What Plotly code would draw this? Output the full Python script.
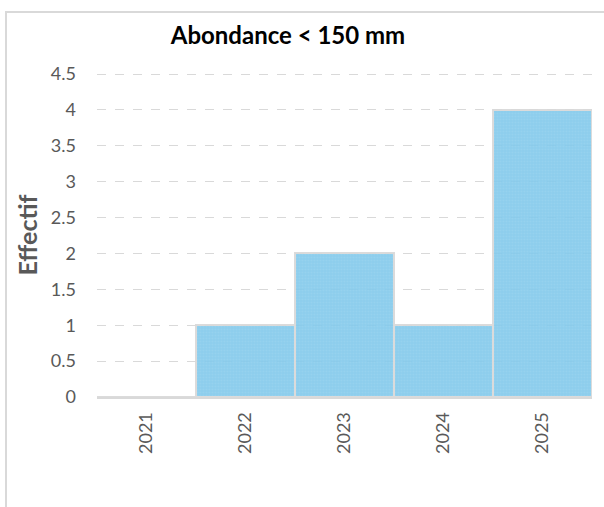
import plotly.graph_objects as go

years = ["2021", "2022", "2023", "2024", "2025"]
effectif = [0, 1, 2, 1, 4]
y_ticks = [0, 0.5, 1, 1.5, 2, 2.5, 3, 3.5, 4, 4.5]
y_tick_text = ["0", "0.5", "1", "1.5", "2", "2.5", "3", "3.5", "4", "4.5"]

W, H = 604, 507
L, R, T, B = 97, 12, 73, 110
pw, ph = W - L - R, H - T - B

def px_to_paper_x(px):
    return (px - L) / pw

def px_to_paper_y(py):
    return (H - B - py) / ph

fig = go.Figure()
fig.add_trace(go.Bar(
    x=years, y=effectif,
    opacity=0.93,
    marker=dict(
        color="#88cbeb",
        line=dict(color="#d9d9d9", width=2),
        pattern=dict(shape=".", size=3, solidity=0.3, fgcolor="#9ad4f0", bgcolor="#85caeb"),
    ),
))

fig.update_layout(
    width=W, height=H,
    margin=dict(l=L, r=R, t=T, b=B, autoexpand=False),
    paper_bgcolor="white", plot_bgcolor="white",
    bargap=0.0,
    showlegend=False,
    font=dict(family="Lato, Open Sans, sans-serif", color="#595959"),
    title=dict(text="<b>Abondance < 150 mm</b>", x=px_to_paper_x(288), xref="paper", xanchor="center",
               y=1 - 36 / H, yanchor="middle",
               font=dict(family="Lato, sans-serif", size=24, color="#000000")),
    shapes=[dict(type="rect", xref="paper", yref="paper",
                 x0=px_to_paper_x(6), x1=px_to_paper_x(612),
                 y0=px_to_paper_y(520), y1=px_to_paper_y(12),
                 line=dict(color="#d9d9d9", width=2), fillcolor="rgba(0,0,0,0)", layer="below")],
)
fig.update_xaxes(
    type="category", tickangle=-90, showgrid=False, showline=True,
    linecolor="#d9d9d9", linewidth=2, ticks="", ticklabelstandoff=6,
    tickfont=dict(size=18, color="#595959"),
)
fig.update_yaxes(
    range=[0, 4.515], tickvals=y_ticks, ticktext=y_tick_text,
    showgrid=True, gridcolor="#d9d9d9", griddash="dash", gridwidth=1,
    zeroline=False, showline=False, ticks="", ticklabelstandoff=20,
    tickfont=dict(size=18, color="#595959"),
    title=dict(text="<b>Effectif</b>", standoff=6,
               font=dict(family="Lato, sans-serif", size=25, color="#595959")),
)

fig.write_html("out.html", config={"displayModeBar": False},
               post_script="document.body.style.margin='0';")
